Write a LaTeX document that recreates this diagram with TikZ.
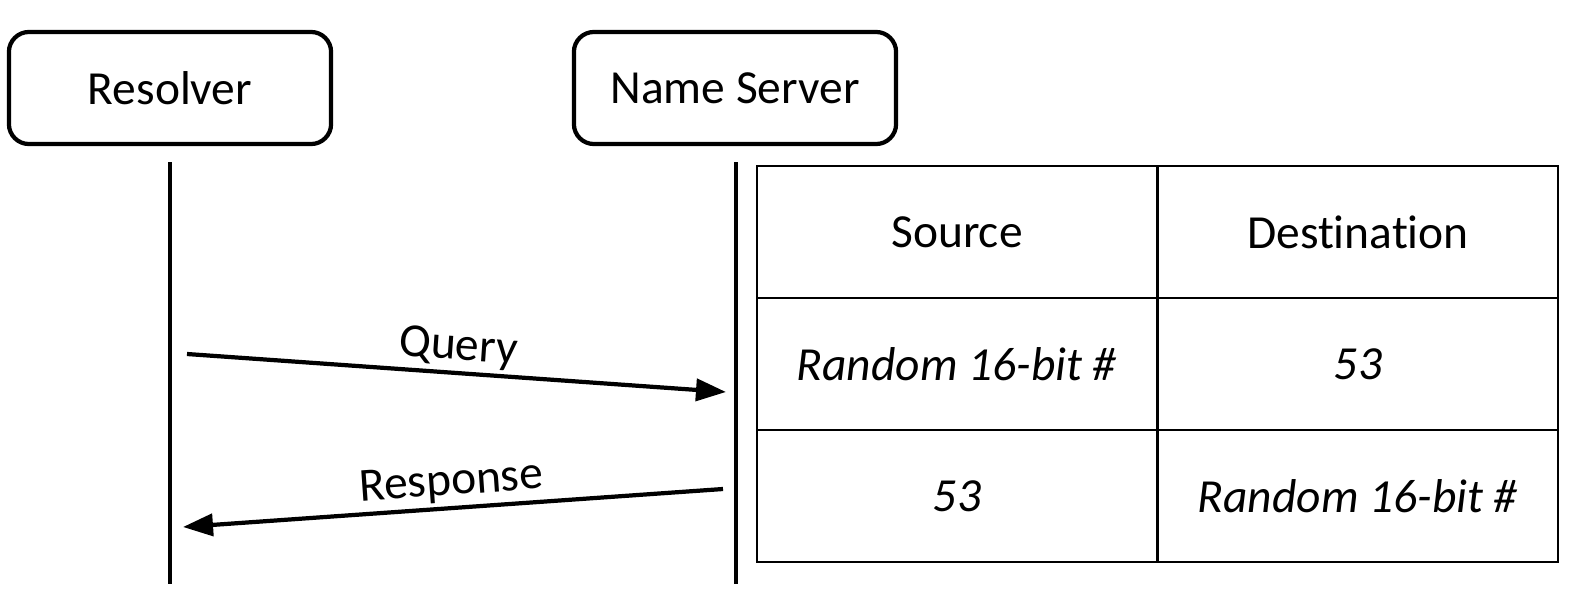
\documentclass[tikz,border=0pt]{standalone}
\usepackage{fontspec}
\setmainfont{Carlito}[Ligatures=NoCommon]
\usetikzlibrary{arrows.meta}
\begin{document}
\begin{tikzpicture}[x=0.01cm,y=-0.01cm,
actor/.style={draw,line width=1.2pt,rounded corners=0.2cm,minimum width=3.22cm,minimum height=1.12cm,font=\fontsize{13.5}{16}\selectfont},
cell/.style={draw,line width=0.6pt,minimum width=4cm,minimum height=1.32cm,font=\fontsize{13.5}{16}\selectfont},
life/.style={line width=1.2pt},
msg/.style={line width=1.2pt,-{Triangle[length=0.3cm,width=0.22cm]}},
msglabel/.style={sloped,above,inner sep=1pt,font=\fontsize{13.5}{16}\selectfont}]
\useasboundingbox (0,0) rectangle (1596,606);
\node[actor](res) at (170,88){Resolver};
\node[actor](ns) at (735,88){Name Server};
% lifelines
\coordinate (r1) at (170,162);
\coordinate (r2) at (170,584);
\coordinate (n1) at (736,162);
\coordinate (n2) at (736,584);
\draw[life] (r1)--(r2) (n1)--(n2);
% messages
\coordinate (q1) at (187,354);
\coordinate (q2) at (726,392);
\coordinate (a1) at (723,489);
\coordinate (a2) at (183,527);
\draw[msg] (q1) -- node[msglabel]{Query} (q2);
\draw[msg] (a1) -- node[msglabel]{Response} (a2);
% ports table
\foreach \r/\a/\b in {0/Source/Destination,1/\textit{Random 16-bit \#}/\textit{53},2/\textit{53}/\textit{Random 16-bit \#}}
{\node[cell](s\r) at (957,232+132*\r){\a};
\node[cell](d\r) at (1358,232+132*\r){\b};
}
\end{tikzpicture}
\end{document}
